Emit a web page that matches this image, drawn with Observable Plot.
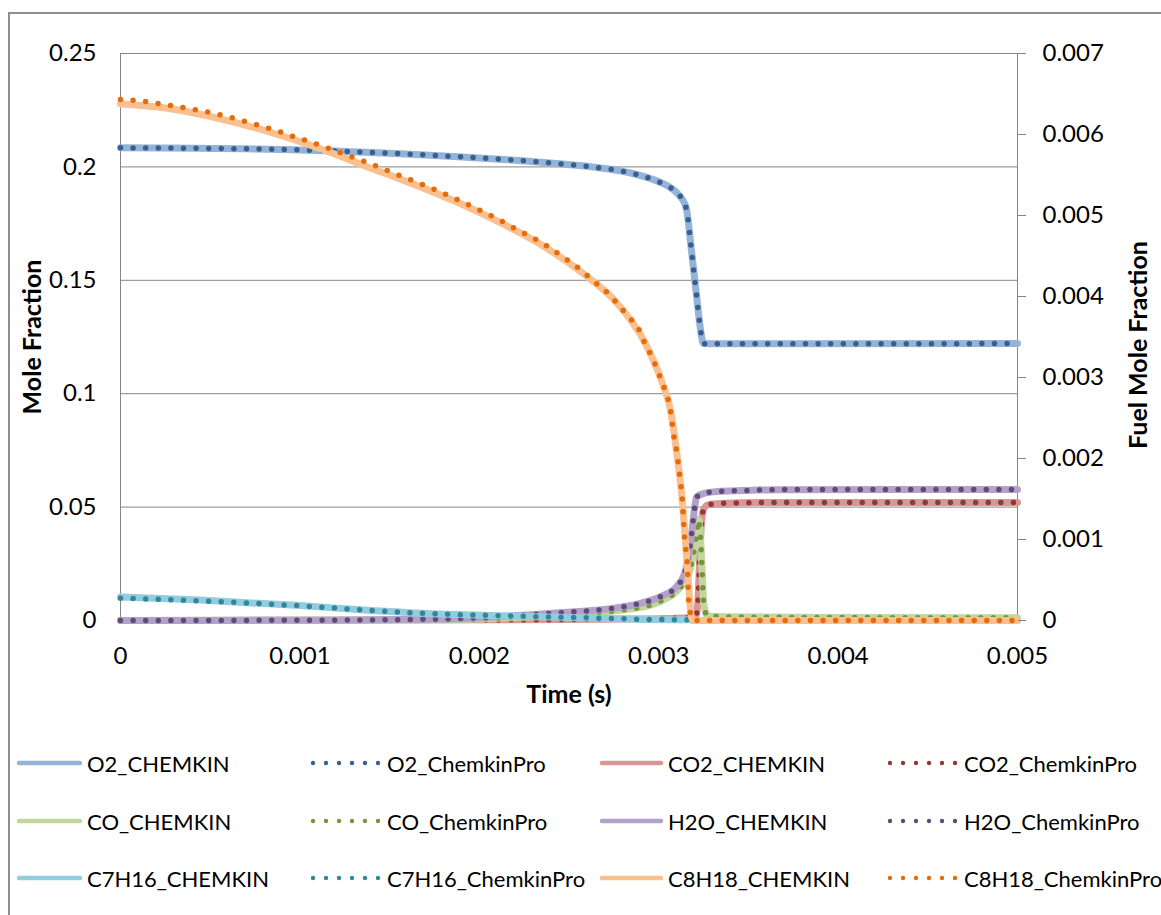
<!DOCTYPE html>
<html>
<head>
<meta charset="utf-8">
<script src="https://cdn.jsdelivr.net/npm/d3@7"></script>
<script src="https://cdn.jsdelivr.net/npm/@observablehq/plot@0.6"></script>
<style>
  html, body { margin: 0; padding: 0; background: #fff; overflow: hidden; }
  body { width: 1161px; height: 915px; position: relative; font-family: Lato, sans-serif; }
  #frame { position: absolute; left: 8px; top: 12px; width: 1220px; height: 960px; border: 2px solid #8e8e8e; box-sizing: border-box; }
  #chart { position: absolute; left: 0; top: 0; }
  #legend { position: absolute; left: 0; top: 720px; width: 1161px; height: 195px; }
  .item { position: absolute; display: flex; align-items: center; height: 30px; font-size: 22px; color: #000; white-space: nowrap; }
  .item svg { flex: none; }
</style>
</head>
<body>
<div id="frame"></div>
<div id="chart"></div>
<div id="legend"></div>
<script>
// Axis scales: mole fraction (left) and fuel mole fraction (right)
const moleMax = 0.25;
const fuelMax = 0.007;
const timeTicks = [0, 0.001, 0.002, 0.003, 0.004, 0.005];
const moleTicks = [0, 0.05, 0.1, 0.15, 0.2, 0.25];
const fuelTicks = [0, 0.001, 0.002, 0.003, 0.004, 0.005, 0.006, 0.007];

// O2 mole fraction vs time (s)
const o2Time     = [0, 0.000892, 0.001561, 0.001856, 0.002135, 0.002414, 0.002637, 0.002776, 0.002915, 0.002993, 0.003055, 0.003105, 0.003149, 0.003162, 0.003177, 0.003194, 0.003211, 0.003228, 0.003239, 0.00325, 0.003289, 0.005];
const o2Chemkin  = [0.2084, 0.2077, 0.2058, 0.2046, 0.2033, 0.2016, 0.1999, 0.1984, 0.1958, 0.1937, 0.1914, 0.1883, 0.1830, 0.1778, 0.1671, 0.1552, 0.1433, 0.1314, 0.1252, 0.1221, 0.1220, 0.1221];
const o2Pro      = [0.2084, 0.2077, 0.2058, 0.2046, 0.2033, 0.2016, 0.1999, 0.1984, 0.1958, 0.1937, 0.1914, 0.1883, 0.1830, 0.1778, 0.1671, 0.1552, 0.1433, 0.1314, 0.1252, 0.1221, 0.1220, 0.1221];

// CO2
const co2Time    = [0, 0.0022, 0.0027, 0.00305, 0.00316, 0.003205, 0.003218, 0.003224, 0.003229, 0.003237, 0.003251, 0.003278, 0.003344, 0.003567, 0.005];
const co2Chemkin = [0, 0.0003, 0.0006, 0.0009, 0.0012, 0.0015, 0.0074, 0.0176, 0.0295, 0.0411, 0.0492, 0.0511, 0.0516, 0.0520, 0.0520];
const co2Pro     = [0, 0.0003, 0.0006, 0.0009, 0.0012, 0.0015, 0.0074, 0.0176, 0.0295, 0.0411, 0.0492, 0.0511, 0.0516, 0.0520, 0.0520];

// CO
const coTime     = [0, 0.001561, 0.00195, 0.00222, 0.00245, 0.00283, 0.0029, 0.00301, 0.003105, 0.003138, 0.003161, 0.003194, 0.003216, 0.003222, 0.003233, 0.003242, 0.003251, 0.003272, 0.003384, 0.004, 0.005];
const coChemkin  = [0, 0.0002, 0.0006, 0.0014, 0.0022, 0.0050, 0.0058, 0.0085, 0.0132, 0.0163, 0.0190, 0.0295, 0.0410, 0.0445, 0.0366, 0.0220, 0.0075, 0.0020, 0.0016, 0.0013, 0.0012];
const coPro      = [0, 0.0002, 0.0006, 0.0014, 0.0022, 0.0050, 0.0058, 0.0085, 0.0132, 0.0163, 0.0190, 0.0295, 0.0410, 0.0445, 0.0366, 0.0220, 0.0075, 0.0020, 0.0016, 0.0013, 0.0012];

// H2O
const h2oTime    = [0, 0.001003, 0.001561, 0.00195, 0.00222, 0.00237, 0.00258, 0.00268, 0.00279, 0.0029, 0.00301, 0.003105, 0.003149, 0.003177, 0.003194, 0.003211, 0.00325, 0.003328, 0.003473, 0.003662, 0.005];
const h2oChemkin = [0, 0.0001, 0.0004, 0.0010, 0.0022, 0.0030, 0.0041, 0.0047, 0.0059, 0.0076, 0.0105, 0.0154, 0.0220, 0.0340, 0.0455, 0.0544, 0.0560, 0.0569, 0.0573, 0.0577, 0.0578];
const h2oPro     = [0, 0.0001, 0.0004, 0.0010, 0.0022, 0.0030, 0.0041, 0.0047, 0.0059, 0.0076, 0.0105, 0.0154, 0.0220, 0.0340, 0.0455, 0.0544, 0.0560, 0.0569, 0.0573, 0.0577, 0.0578];

// n-heptane (fuel axis)
const c7Time     = [0, 0.000446, 0.001003, 0.001338, 0.001711, 0.002135, 0.002676, 0.002955, 0.003177, 0.003194, 0.005];
const c7Chemkin  = [0.000290, 0.000252, 0.000184, 0.000133, 0.0000864, 0.000058, 0.0000284, 0.0000123, 0.0000086, 0, 0];
const c7Pro      = [0.000275, 0.000243, 0.000181, 0.000132, 0.0000864, 0.000058, 0.0000284, 0.0000123, 0.0000086, 0, 0];

// iso-octane (fuel axis)
const c8ChemkinTime = [0, 0.000279, 0.000557, 0.000836, 0.001115, 0.001377, 0.001572, 0.001839, 0.002101, 0.002352, 0.002581, 0.002742, 0.002832, 0.00291, 0.002971, 0.003021, 0.003066, 0.003099, 0.003133, 0.003161, 0.003183, 0.003194, 0.005];
const c8Chemkin     = [0.006379, 0.006317, 0.006194, 0.006028, 0.005824, 0.005600, 0.005440, 0.005200, 0.004930, 0.004630, 0.004280, 0.003979, 0.003744, 0.003485, 0.003210, 0.002926, 0.002593, 0.002099, 0.001444, 0.000617, 0.000037, 0, 0];
const c8ProTime     = [0, 0.000139, 0.000279, 0.000418, 0.000557, 0.000697, 0.000836, 0.000976, 0.001115, 0.001243, 0.001377, 0.001572, 0.001711, 0.001839, 0.001968, 0.002101, 0.002219, 0.002352, 0.002469, 0.002581, 0.002637, 0.002692, 0.002742, 0.002787, 0.002832, 0.002882, 0.00291, 0.002971, 0.003021, 0.003049, 0.003066, 0.003082, 0.003099, 0.003116, 0.003133, 0.003144, 0.003161, 0.003166, 0.003183, 0.003194, 0.005];
const c8Pro         = [0.006432, 0.006407, 0.006358, 0.006305, 0.006243, 0.006160, 0.006070, 0.005967, 0.005864, 0.005762, 0.005651, 0.005481, 0.005358, 0.005235, 0.005102, 0.004959, 0.004815, 0.004658, 0.004485, 0.004300, 0.004189, 0.004095, 0.003979, 0.003868, 0.003744, 0.003630, 0.003485, 0.003210, 0.002926, 0.002757, 0.002593, 0.002309, 0.002099, 0.001815, 0.001444, 0.001025, 0.000617, 0.000284, 0.000037, 0, 0];

// Series, in drawing / legend order
const series = [
  {label: "O2",    fuel: false, light: "#95B3D7", dark: "#376092", chemkin: [o2Time, o2Chemkin],        pro: [o2Time, o2Pro]},
  {label: "CO2",   fuel: false, light: "#D99694", dark: "#953735", chemkin: [co2Time, co2Chemkin],      pro: [co2Time, co2Pro]},
  {label: "CO",    fuel: false, light: "#C3D69B", dark: "#77933C", chemkin: [coTime, coChemkin],        pro: [coTime, coPro]},
  {label: "H2O",   fuel: false, light: "#B3A2C7", dark: "#604A7B", chemkin: [h2oTime, h2oChemkin],      pro: [h2oTime, h2oPro]},
  {label: "C7H16", fuel: true,  light: "#93CDDD", dark: "#31859C", chemkin: [c7Time, c7Chemkin],        pro: [c7Time, c7Pro]},
  {label: "C8H18", fuel: true,  light: "#FAC090", dark: "#E46C0A", chemkin: [c8ChemkinTime, c8Chemkin], pro: [c8ProTime, c8Pro]}
];

// Fuel values share the left scale: fuelMax on the right lines up with moleMax on the left
const toMole = (v, fuel) => fuel ? v / fuelMax * moleMax : v;
const rows = ([ts, vs], fuel) => ts.map((t, i) => ({t, v: toMole(vs[i], fuel)}));

const fmt = d3.format("~g");
const grid = "#868686";

const marks = [
  Plot.ruleY(moleTicks.filter(d => d > 0), {stroke: grid, strokeWidth: 1}),
  Plot.ruleX([timeTicks[0], timeTicks[timeTicks.length - 1]], {stroke: grid, strokeWidth: 1}),
  Plot.ruleY([0], {stroke: grid, strokeWidth: 1})
];

for (const s of series) {
  marks.push(Plot.line(rows(s.chemkin, s.fuel), {
    x: "t", y: "v", stroke: s.light, strokeWidth: 7, curve: "monotone-x", strokeLinejoin: "round"
  }));
  marks.push(Plot.line(rows(s.pro, s.fuel), {
    x: "t", y: "v", stroke: s.dark, strokeWidth: 5.5, curve: "monotone-x",
    strokeDasharray: "0 12.6", strokeLinecap: "round"
  }));
}

const titleStyle = {text: d => d, textAnchor: "middle", lineAnchor: "middle", fontSize: 25, fontWeight: "bold", fill: "#000"};

marks.push(
  Plot.axisX({ticks: timeTicks, tickFormat: fmt, tickSize: 0, tickPadding: 26, label: null, fill: "#000"}),
  Plot.axisY({ticks: moleTicks, tickFormat: fmt, tickSize: 0, tickPadding: 24, label: null, fill: "#000"}),
  Plot.axisY({
    anchor: "right",
    ticks: fuelTicks.map(f => toMole(f, true)),
    tickFormat: d => fmt(+(d / moleMax * fuelMax).toFixed(6)),
    tickSize: 8, tickPadding: 17, stroke: grid, fill: "#000", label: null
  }),
  Plot.text(["Mole Fraction"], {...titleStyle, frameAnchor: "left", dx: -88, rotate: -90}),
  Plot.text(["Fuel Mole Fraction"], {...titleStyle, frameAnchor: "right", dx: 121, dy: 8, rotate: -90}),
  Plot.text(["Time (s)"], {...titleStyle, frameAnchor: "bottom", dy: 74})
);

const chart = Plot.plot({
  width: 1161,
  height: 720,
  marginLeft: 120,
  marginRight: 144,
  marginTop: 53,
  marginBottom: 100,
  x: {domain: [0, 0.005]},
  y: {domain: [0, moleMax]},
  style: {fontFamily: "Lato, sans-serif", fontSize: "24px", color: "#000", background: "transparent", overflow: "visible"},
  marks
});
document.getElementById("chart").append(chart);

// Legend: four columns, three rows
const legendCols = [
  {x: 17,  tx: 87},
  {x: 300, tx: 387},
  {x: 600, tx: 668},
  {x: 876, tx: 964}
];
const legendRows = [43, 101, 158];
const legend = document.getElementById("legend");
const ns = "http://www.w3.org/2000/svg";
series.forEach((s, i) => {
  ["CHEMKIN", "ChemkinPro"].forEach((kind, j) => {
    const col = legendCols[(i % 2) * 2 + j];
    const rowY = legendRows[Math.floor(i / 2)];
    const item = document.createElement("div");
    item.className = "item";
    item.style.left = col.x + "px";
    item.style.top = (rowY - 15) + "px";
    const w = col.tx - col.x;
    const svg = document.createElementNS(ns, "svg");
    svg.setAttribute("width", w);
    svg.setAttribute("height", 12);
    if (kind === "CHEMKIN") {
      const line = document.createElementNS(ns, "line");
      line.setAttribute("x1", 2); line.setAttribute("x2", w - 7);
      line.setAttribute("y1", 6); line.setAttribute("y2", 6);
      line.setAttribute("stroke", s.light);
      line.setAttribute("stroke-width", 4.5);
      line.setAttribute("stroke-linecap", "round");
      svg.append(line);
    } else {
      for (let k = 0; k < 6; k++) {
        const c = document.createElementNS(ns, "circle");
        c.setAttribute("cx", w - 9 - (5 - k) * 13);
        c.setAttribute("cy", 6);
        c.setAttribute("r", 2.2);
        c.setAttribute("fill", s.dark);
        svg.append(c);
      }
    }
    const span = document.createElement("span");
    span.textContent = `${s.label}_${kind}`;
    item.append(svg, span);
    legend.append(item);
  });
});
</script>
</body>
</html>
